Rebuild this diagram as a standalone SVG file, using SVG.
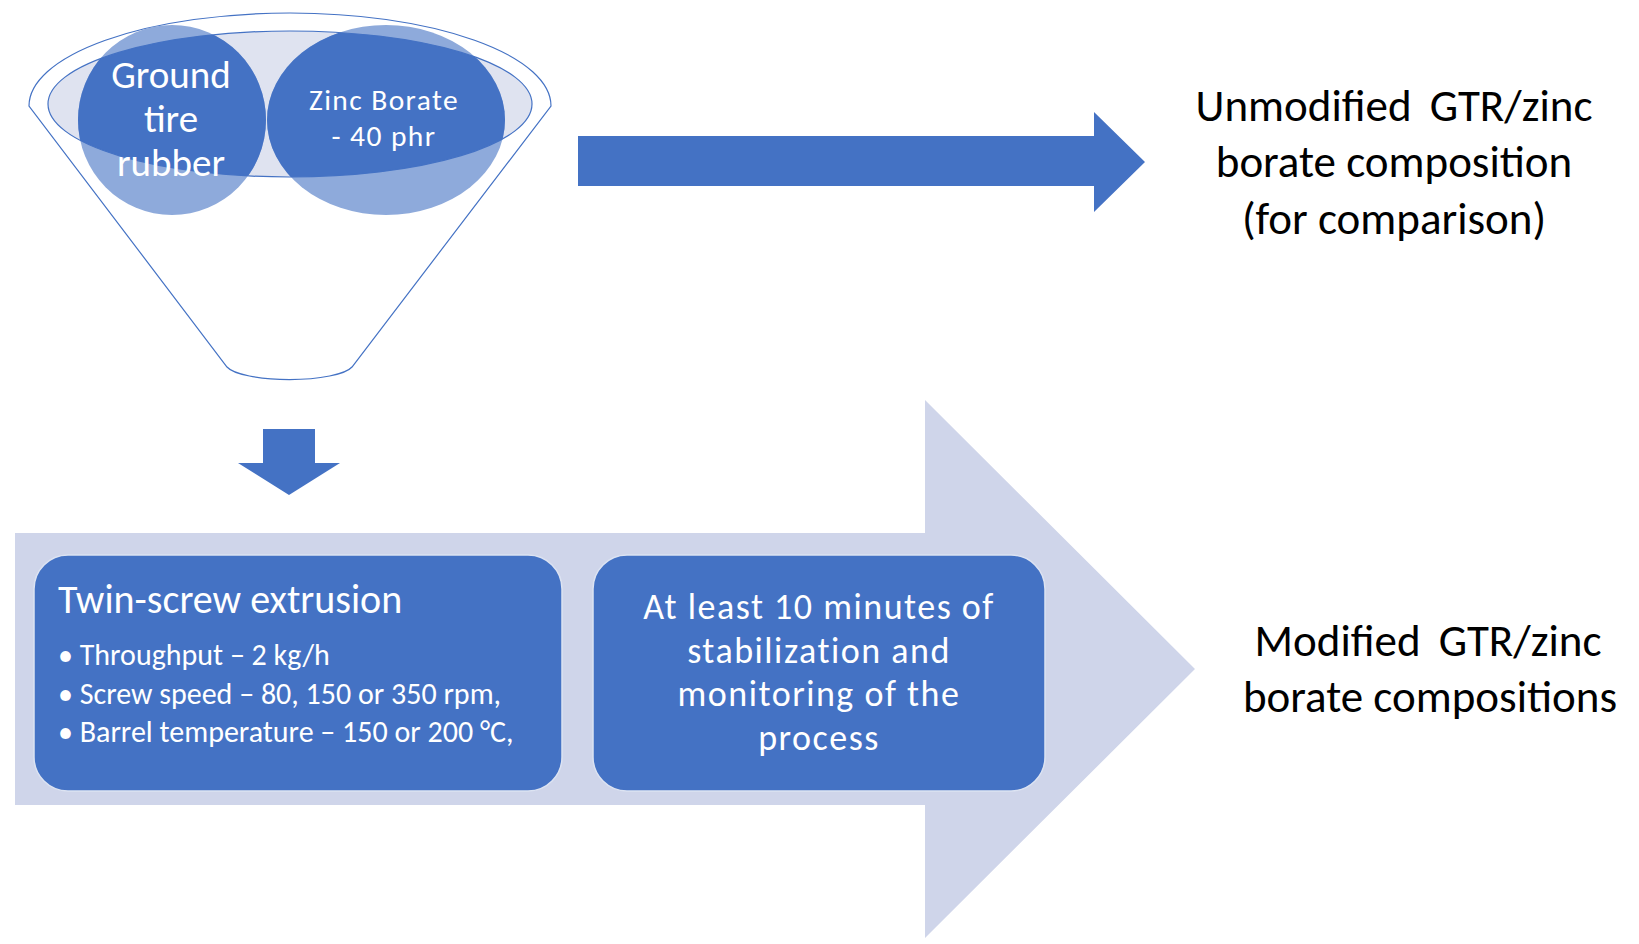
<svg xmlns="http://www.w3.org/2000/svg" width="1639" height="944" viewBox="0 0 1639 944">
<style>
  .t { font-family: Calibri, Carlito, Lato, "Noto Sans", sans-serif; }
  .w { fill: #ffffff; }
  .k { fill: #000000; }
  .blue { fill: #4472c4; }
  .lite { fill: #cfd5ea; }
  .box { fill: #4472c4; stroke: #dce3f2; stroke-width: 1.5; }
</style>
<defs>
  <clipPath id="inner">
    <ellipse cx="290" cy="104" rx="242" ry="73"/>
  </clipPath>
</defs>
<rect width="1639" height="944" fill="#ffffff"/>

<g id="funnel">
  <path d="M29,106 A261,93 0 0 1 551,106 L352,367 A64,16 0 0 1 227,367 Z" fill="none" stroke="#4472c4" stroke-width="1.2"/>
  <ellipse cx="290" cy="104" rx="242" ry="73" fill="#dfe3f0"/>
  <ellipse cx="172" cy="120" rx="94" ry="95" fill="#8eaadb"/>
  <ellipse cx="386" cy="120" rx="119" ry="95" fill="#8eaadb"/>
  <g clip-path="url(#inner)">
    <ellipse cx="172" cy="120" rx="94" ry="95" fill="#4472c4"/>
    <ellipse cx="386" cy="120" rx="119" ry="95" fill="#4472c4"/>
  </g>
  <ellipse cx="290" cy="104" rx="242" ry="73" fill="none" stroke="#4472c4" stroke-width="1.2"/>
</g>

<g id="ground-tire-rubber">
  <text class="t w" text-anchor="middle" font-size="39"><tspan x="171" y="88">Ground</tspan><tspan x="171" y="132">tire</tspan><tspan x="171" y="176">rubber</tspan></text>
</g>

<g id="zinc-borate">
  <text class="t w" text-anchor="middle" font-size="29.5" letter-spacing="1.4"><tspan x="384" y="110">Zinc Borate</tspan><tspan x="384" y="146">- 40 phr</tspan></text>
</g>

<g id="connectors">
  <path class="blue" d="M578,136 H1094 V112 L1145,162 L1094,212 V186 H578 Z"/>
  <path class="blue" d="M263,429 H315 V463 H340 L289,495 L238,463 H263 Z"/>
  <path class="lite" d="M15,533 H925 V400 L1195,669 L925,938 V805 H15 Z"/>
</g>

<g id="unmodified">
  <text class="t k" text-anchor="middle" font-size="45"><tspan x="1394" y="121" word-spacing="8">Unmodified GTR/zinc</tspan><tspan x="1394" y="177">borate composition</tspan><tspan x="1394" y="234">(for comparison)</tspan></text>
</g>

<g id="modified">
  <text class="t k" text-anchor="middle" font-size="45"><tspan x="1428" y="656" word-spacing="8">Modified GTR/zinc</tspan><tspan x="1430" y="712">borate compositions</tspan></text>
</g>

<g id="twin-screw">
  <rect class="box" x="34" y="555" width="528" height="236" rx="34"/>
  <text class="t w" x="58" y="613" font-size="40">Twin-screw extrusion</text>
  <text class="t w" font-size="30">
    <tspan x="58" y="665">• Throughput – 2 kg/h</tspan>
    <tspan x="58" y="704">• Screw speed – 80, 150 or 350 rpm,</tspan>
    <tspan x="58" y="742">• Barrel temperature – 150 or 200 °C,</tspan>
  </text>
</g>

<g id="stabilization">
  <rect class="box" x="593" y="555" width="452" height="236" rx="34"/>
  <text class="t w" text-anchor="middle" font-size="36" letter-spacing="1.5"><tspan x="819" y="619">At least 10 minutes of</tspan><tspan x="819" y="663">stabilization and</tspan><tspan x="819" y="706">monitoring of the</tspan><tspan x="819" y="750">process</tspan></text>
</g>
</svg>
